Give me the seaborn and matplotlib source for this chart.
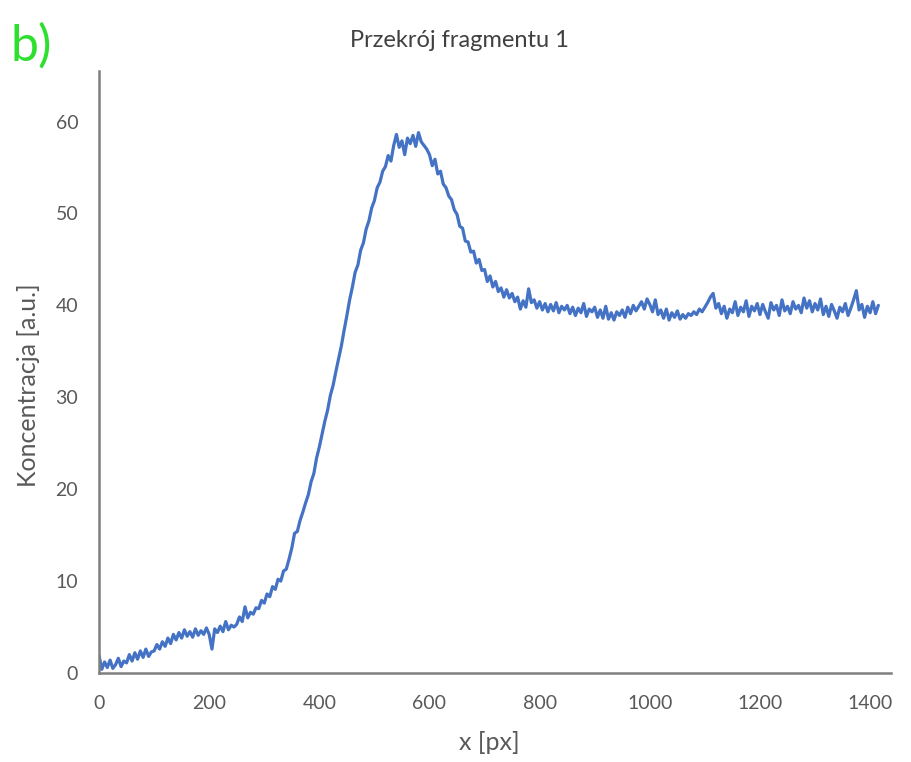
import numpy as np
import pandas as pd
import matplotlib
matplotlib.use("Agg")
import matplotlib.pyplot as plt
import seaborn as sns

# Concentration profile sampled every 5 px along the cross-section
x_step = 5
koncentracja = [
    1.9, 0.4, 1.2, 0.6, 1.4, 0.5, 0.9, 1.6, 0.7, 1.3,
    1.1, 2.0, 1.3, 2.2, 1.5, 2.4, 1.7, 2.6, 1.8, 2.3,
    2.4, 3.1, 2.6, 3.4, 2.9, 3.8, 3.2, 4.2, 3.6, 4.4,
    3.8, 4.7, 4.0, 4.5, 3.9, 4.8, 4.1, 4.6, 4.2, 4.9,
    4.2, 2.6, 4.8, 4.4, 5.1, 4.5, 5.6, 4.7, 5.2, 5.0,
    5.3, 6.1, 5.6, 7.2, 6.0, 6.6, 6.4, 7.1, 7.0, 7.9,
    7.6, 8.6, 8.3, 9.4, 9.1, 10.2, 10.0, 11.1, 11.3, 12.4,
    13.6, 15.2, 15.4, 16.6, 17.5, 18.5, 19.4, 20.8, 21.7, 23.4,
    24.6, 26.0, 27.4, 28.6, 30.2, 31.3, 32.8, 34.2, 35.6, 37.3,
    38.9, 40.6, 42.0, 43.6, 44.4, 46.0, 46.8, 48.3, 49.2, 50.6,
    51.4, 52.8, 53.4, 54.6, 55.1, 56.3, 55.7, 57.4, 58.6, 57.2,
    57.9, 56.4, 58.2, 57.6, 58.5, 57.3, 58.8, 57.8, 57.4, 57.0,
    56.4, 55.2, 55.9, 54.3, 54.6, 53.2, 52.8, 51.9, 51.5, 50.4,
    49.9, 48.6, 48.4, 47.0, 46.9, 45.8, 45.9, 44.6, 45.0, 43.8,
    43.9, 42.6, 43.2, 42.0, 42.6, 41.5, 41.9, 40.9, 41.7, 40.8,
    41.3, 40.4, 40.9, 39.6, 40.5, 39.8, 41.8, 40.3, 40.6, 39.7,
    40.4, 39.5, 40.2, 39.3, 40.1, 39.4, 40.3, 39.2, 39.9, 39.5,
    40.0, 39.1, 39.8, 38.9, 39.7, 39.2, 40.2, 38.8, 39.6, 39.3,
    39.8, 38.7, 39.5, 38.6, 39.9, 38.5, 39.2, 38.4, 39.3, 38.9,
    39.5, 38.7, 39.8, 39.1, 40.0, 39.4, 39.9, 40.4, 39.6, 40.7,
    40.1, 39.3, 40.6, 39.0, 39.5, 38.6, 39.6, 38.4, 39.2, 38.7,
    39.4, 38.5, 39.0, 38.6, 39.1, 38.9, 39.3, 39.0, 39.6, 39.3,
    39.8, 40.3, 40.9, 41.3, 39.7, 40.2, 39.1, 39.9, 38.6, 39.6,
    39.2, 40.4, 38.9, 39.8, 39.3, 40.5, 38.8, 39.9, 39.4, 40.2,
    39.0, 40.1, 39.3, 38.6, 40.3, 39.5, 40.0, 38.9, 40.6, 39.4,
    39.9, 39.1, 40.4, 39.6, 40.0, 39.2, 40.8, 39.7, 40.5, 39.3,
    40.2, 39.5, 40.7, 39.0, 39.9, 38.8, 40.1, 39.4, 38.6, 39.8,
    39.3, 40.2, 38.9, 39.7, 40.6, 41.6, 39.5, 40.1, 38.7, 39.9,
    39.2, 40.4, 39.1, 40.0,
]
x_px = np.arange(len(koncentracja)) * x_step

x_ticks = [0, 200, 400, 600, 800, 1000, 1200, 1400]
y_ticks = [0, 10, 20, 30, 40, 50, 60]

df = pd.DataFrame({"x": x_px, "c": koncentracja})

sns.set_theme(style="white")
plt.rcParams["font.family"] = ["Lato", "DejaVu Sans"]

fig = plt.figure(figsize=(9.12, 7.62), dpi=100)
ax = fig.add_axes([0.1086, 0.1168, 0.8684, 0.7900])

sns.lineplot(data=df, x="x", y="c", ax=ax, color="#4472C4", linewidth=2.3)

ax.set_xlim(0, 1438)
ax.set_ylim(0, 65.5)
ax.set_xticks(x_ticks)
ax.set_yticks(y_ticks)
ax.set_xlabel("")
ax.set_ylabel("")

tick_color = "#595959"
ax.tick_params(axis="both", length=0, labelsize=14, colors=tick_color)
ax.tick_params(axis="y", pad=15)
ax.tick_params(axis="x", pad=16)

for side in ["top", "right"]:
    ax.spines[side].set_visible(False)
for side in ["left", "bottom"]:
    ax.spines[side].set_color("#7f7f7f")
    ax.spines[side].set_linewidth(1.8)

fig.text(0.504, 0.947, "Przekrój fragmentu 1", ha="center", va="center",
         fontsize=17, color="#404040")
fig.text(0.537, 0.026, "x [px]", ha="center", va="center",
         fontsize=18, color=tick_color)
fig.text(0.031, 0.495, "Koncentracja [a.u.]", ha="center", va="center",
         rotation=90, fontsize=18, color=tick_color)
fig.text(0.012, 0.921, "b)", ha="left", va="baseline",
         fontsize=36, color="#2ee02e")

fig.savefig("out.png", dpi=100, facecolor="white")
